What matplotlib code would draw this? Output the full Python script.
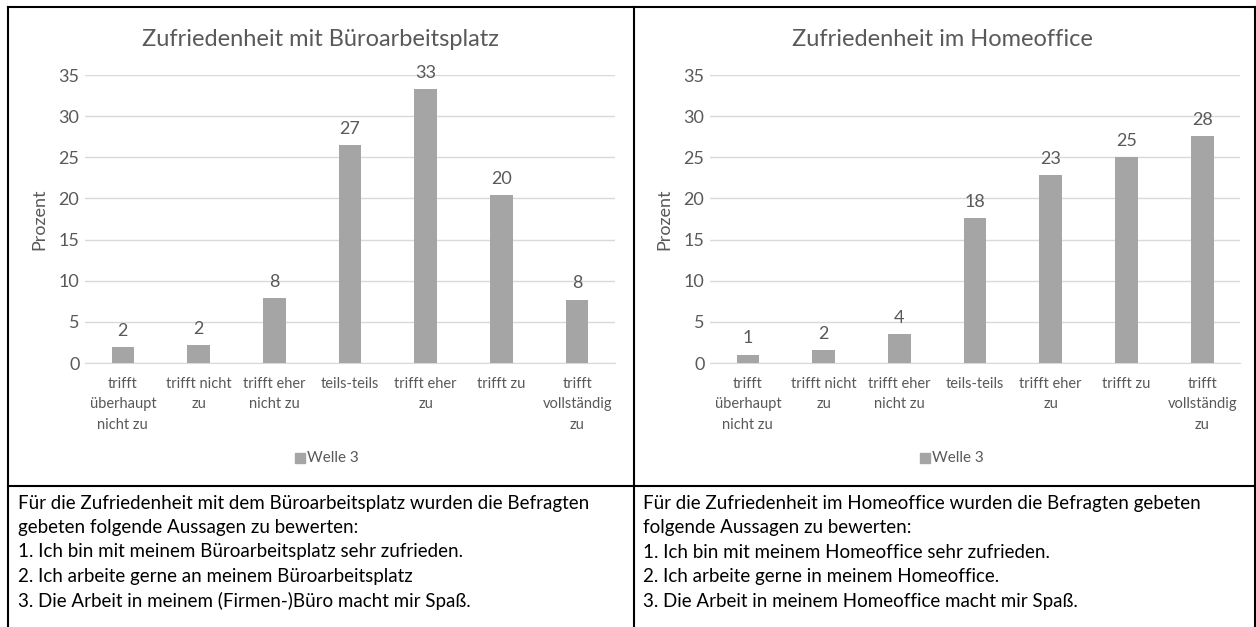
import matplotlib.pyplot as plt
from matplotlib.lines import Line2D
from matplotlib.patches import Rectangle

plt.rcParams['font.family'] = ['Lato', 'DejaVu Sans']

# Daten
kategorien = ['trifft\nüberhaupt\nnicht zu', 'trifft nicht\nzu', 'trifft eher\nnicht zu',
              'teils-teils', 'trifft eher\nzu', 'trifft zu', 'trifft\nvollständig\nzu']
buero = [1.9, 2.2, 7.9, 26.5, 33.3, 20.4, 7.7]
buero_labels = ['2', '2', '8', '27', '33', '20', '8']
home = [1.0, 1.6, 3.5, 17.6, 22.8, 25.0, 27.6]
home_labels = ['1', '2', '4', '18', '23', '25', '28']
yticks = [0, 5, 10, 15, 20, 25, 30, 35]
serie = 'Welle 3'

titel_links = 'Zufriedenheit mit Büroarbeitsplatz'
titel_rechts = 'Zufriedenheit im Homeoffice'

text_links = ['Für die Zufriedenheit mit dem Büroarbeitsplatz wurden die Befragten',
              'gebeten folgende Aussagen zu bewerten:',
              '1. Ich bin mit meinem Büroarbeitsplatz sehr zufrieden.',
              '2. Ich arbeite gerne an meinem Büroarbeitsplatz',
              '3. Die Arbeit in meinem (Firmen-)Büro macht mir Spaß.']
text_rechts = ['Für die Zufriedenheit im Homeoffice wurden die Befragten gebeten',
               'folgende Aussagen zu bewerten:',
               '1. Ich bin mit meinem Homeoffice sehr zufrieden.',
               '2. Ich arbeite gerne in meinem Homeoffice.',
               '3. Die Arbeit in meinem Homeoffice macht mir Spaß.']

W, H = 1256, 627
bar_color = '#a5a5a5'
txt_color = '#595959'
grid_color = '#d9d9d9'

fig = plt.figure(figsize=(W / 100, H / 100), dpi=100)


def px(x, y):
    return x / W, 1 - y / H


def chart(x0, titel, werte, labels, title_x, legend_x):
    left, bottom = px(x0, 363)
    ax = fig.add_axes([left, bottom, 530 / W, 288 / H])
    x = range(len(werte))
    ax.bar(x, werte, width=0.3, color=bar_color, zorder=3)
    for xi, v, l in zip(x, werte, labels):
        ax.annotate(l, (xi, v), xytext=(0, 6), textcoords='offset points',
                    ha='center', va='bottom', fontsize=13, color=txt_color)
    ax.set_ylim(0, 35)
    ax.set_xlim(-0.5, len(werte) - 0.5)
    ax.set_yticks(yticks)
    ax.set_xticks(list(x))
    ax.set_xticklabels(kategorien, fontsize=10.5, color=txt_color, linespacing=1.6)
    ax.tick_params(axis='y', labelsize=13, colors=txt_color, length=0, pad=4)
    ax.tick_params(axis='x', length=0, pad=10)
    ax.grid(axis='y', color=grid_color, linewidth=1, zorder=0)
    for s in ['top', 'right', 'left']:
        ax.spines[s].set_visible(False)
    ax.spines['bottom'].set_color(grid_color)
    ax.set_ylabel('Prozent', fontsize=13, color=txt_color, labelpad=8)
    tx, ty = px(title_x, 39)
    fig.text(tx, ty, titel, ha='center', va='center', fontsize=17, color=txt_color)
    # Legende
    lx, ly = px(legend_x, 458)
    fig.patches.append(Rectangle((lx - 11 / W, ly - 5 / H), 10 / W, 10 / H,
                                 transform=fig.transFigure, color=bar_color, figure=fig))
    fig.text(lx + 1 / W, ly, serie, ha='left', va='center', fontsize=11, color=txt_color)
    return ax


chart(85, titel_links, buero, buero_labels, 320, 306)
chart(710, titel_rechts, home, home_labels, 942, 931)

# Text unter den Diagrammen
for i, (a, b) in enumerate(zip(text_links, text_rechts)):
    y = 503 + i * 24.5
    fig.text(*px(18, y), a, ha='left', va='center', fontsize=13.5, color='black')
    fig.text(*px(643, y), b, ha='left', va='center', fontsize=13.5, color='black')

# Tabellenrahmen
lw = 1.5
for (x1, y1, x2, y2) in [(8, 7, 1256, 7), (8, 7, 8, 627), (634, 7, 634, 627),
                         (8, 486, 1256, 486), (1255, 7, 1255, 627)]:
    a1, b1 = px(x1, y1)
    a2, b2 = px(x2, y2)
    fig.add_artist(Line2D([a1, a2], [b1, b2], color='black', linewidth=lw))

plt.savefig('out.png', dpi=100)
